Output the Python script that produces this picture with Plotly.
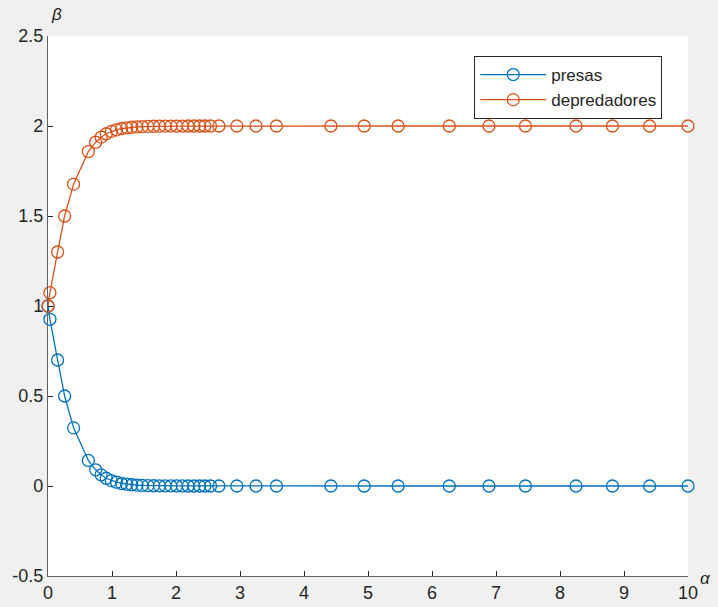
import plotly.graph_objects as go

# Integration time steps (adaptive solver output)
t = [0.0, 0.03, 0.15, 0.26, 0.40, 0.63, 0.745, 0.83, 0.91, 0.99, 1.07, 1.15,
     1.23, 1.31, 1.39, 1.47, 1.56, 1.65, 1.74, 1.83, 1.92, 2.01, 2.10, 2.19,
     2.28, 2.37, 2.45, 2.54, 2.67, 2.95, 3.25, 3.57, 4.42, 4.94, 5.47, 6.27,
     6.89, 7.46, 8.25, 8.82, 9.40, 10.0]

# Prey population
presas = [1.0, 0.926, 0.70, 0.50, 0.323, 0.142, 0.090, 0.062, 0.043, 0.030,
          0.021, 0.014, 0.010, 0.007, 0.005, 0.003, 0.002, 0.0015, 0.001,
          0.0007, 0.0005, 0.0003, 0.0002, 0.0001, 0.0001, 0.0, 0.0, 0.0, 0.0,
          0.0, 0.0, 0.0, 0.0, 0.0, 0.0, 0.0, 0.0, 0.0, 0.0, 0.0, 0.0, 0.0]

# Predator population
depredadores = [1.0, 1.074, 1.30, 1.50, 1.677, 1.858, 1.910, 1.938, 1.957,
                1.970, 1.979, 1.986, 1.990, 1.993, 1.995, 1.997, 1.998,
                1.9985, 1.999, 1.9993, 1.9995, 1.9997, 1.9998, 1.9999, 1.9999,
                2.0, 2.0, 2.0, 2.0, 2.0, 2.0, 2.0, 2.0, 2.0, 2.0, 2.0, 2.0,
                2.0, 2.0, 2.0, 2.0, 2.0]

x_ticks = [0, 1, 2, 3, 4, 5, 6, 7, 8, 9, 10]
y_ticks = [-0.5, 0, 0.5, 1, 1.5, 2, 2.5]
y_tick_labels = ["-0.5", "0", "0.5", "1", "1.5", "2", "2.5"]

BLUE = "#0072BD"
ORANGE = "#D95319"
AXIS = "#262626"
FONT = "Liberation Sans, Arial, sans-serif"

fig = go.Figure()
for name, ys, color in [("presas", presas, BLUE),
                        ("depredadores", depredadores, ORANGE)]:
    fig.add_trace(go.Scatter(
        x=t, y=ys, name=name, mode="lines+markers",
        line=dict(color=color, width=1.3),
        marker=dict(symbol="circle-open", size=12, color=color,
                    line=dict(width=1.3, color=color)),
        cliponaxis=False,
    ))

axis_common = dict(
    showline=True, linecolor="#606060", linewidth=1.2,
    ticks="inside", ticklen=5, tickcolor=AXIS, tickwidth=1,
    showgrid=False, zeroline=False, mirror=False, automargin=False,
    tickfont=dict(family=FONT, size=18, color=AXIS),
)

fig.update_layout(
    width=718, height=607,
    margin=dict(l=48, r=30, t=36, b=31),
    paper_bgcolor="#f0f0f0",
    plot_bgcolor="#ffffff",
    showlegend=True,
    legend=dict(
        x=0.666, y=0.963, xanchor="left", yanchor="top",
        bgcolor="#ffffff", bordercolor=AXIS, borderwidth=1,
        font=dict(family=FONT, size=17, color=AXIS),
        itemwidth=66, tracegroupgap=0,
    ),
    xaxis=dict(range=[0, 10], tickvals=x_ticks, ticklabelstandoff=0,
               **axis_common),
    yaxis=dict(range=[-0.5, 2.5], tickvals=y_ticks, ticktext=y_tick_labels,
               **axis_common),
    annotations=[
        dict(text="<i>β</i>", x=0.014, y=1.04, xref="paper", yref="paper",
             xanchor="center", yanchor="middle", showarrow=False,
             font=dict(family=FONT, size=17, color=AXIS)),
        dict(text="<i>α</i>", x=1.027, y=-0.004, xref="paper", yref="paper",
             xanchor="center", yanchor="middle", showarrow=False,
             font=dict(family=FONT, size=17, color=AXIS)),
    ],
)

fig.write_html("out.html")
